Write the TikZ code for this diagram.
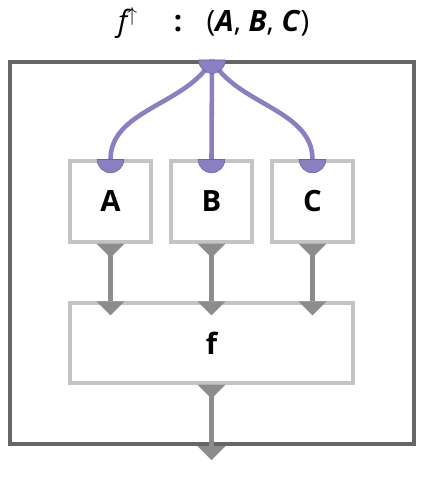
\documentclass[tikz,border=0pt]{standalone}
\usepackage{fontspec}
\setmainfont{Open Sans}
\usetikzlibrary{positioning}
\definecolor{portpurple}{RGB}{139,127,194}
\definecolor{portedge}{RGB}{110,98,170}
\definecolor{framegray}{RGB}{102,102,102}
\definecolor{boxgray}{RGB}{196,196,196}
\definecolor{flowgray}{RGB}{140,140,140}

\begin{document}
\begin{tikzpicture}[x=0.03cm, y=-0.03cm,
  title/.style={inner sep=0pt, anchor=base, font=\fontsize{25}{30}\selectfont},
  box/.style={draw=boxgray, line width=2.6pt, minimum width=2.43cm, minimum height=2.43cm,
    font=\fontsize{25}{30}\selectfont\bfseries},
  wire/.style={portpurple, line width=3.9pt},
  flow/.style={flowgray, line width=4.6pt},
  tri/.pic={\fill[flowgray] (-0.42cm,0) -- (0.42cm,0) -- (0,-0.42cm) -- cycle;},
  port/.pic={\filldraw[fill=portpurple, draw=portedge, line width=0.5pt]
    (-0.4cm,0) arc (180:360:0.4cm) -- cycle;}]
  \useasboundingbox (0,0) rectangle (424,478);
  % title
  \node[title] (tf) at (128,32) {\itshape f$^{\uparrow}$};
  \node[title, font=\fontsize{25}{30}\selectfont\bfseries] (tcolon) at (178,32) {:};
  \node[title] (ttype) at (258,32)
    {(\textbf{\textit{A}}, \textbf{\textit{B}}, \textbf{\textit{C}})};
  % frame and boxes
  \node[draw=framegray, line width=3.4pt, minimum width=12.12cm, minimum height=11.46cm] (outer) at (212,253) {};
  \node[box] (A) at (110.5,201.5) {A};
  \node[box] (B) at (211.5,201.5) {B};
  \node[box] (C) at (312.5,201.5) {C};
  \node[box, minimum width=8.49cm, minimum height=2.4cm] (f) at (211.5,343) {f};
  % wires from the input port
  \draw[wire] (outer.north) .. controls +(-25,45) and +(0,-50) .. (A.north);
  \draw[wire] (outer.north) -- (B.north);
  \draw[wire] (outer.north) .. controls +(25,45) and +(0,-50) .. (C.north);
  \pic at (outer.north) {port};
  \foreach \n in {A,B,C}
    \pic at (\n.north) {port};
  % flows into f
  \foreach \n in {A,B,C}{
    \coordinate (f\n) at (\n.south |- f.north);
    \draw[flow] (\n.south) -- (f\n);
    \pic at (\n.south) {tri};
    \pic at (f\n) {tri};
  }
  \coordinate (out) at (f.south |- outer.south);
  \draw[flow] (f.south) -- (out);
  \pic at (f.south) {tri};
  \pic at (out) {tri};
\end{tikzpicture}
\end{document}
